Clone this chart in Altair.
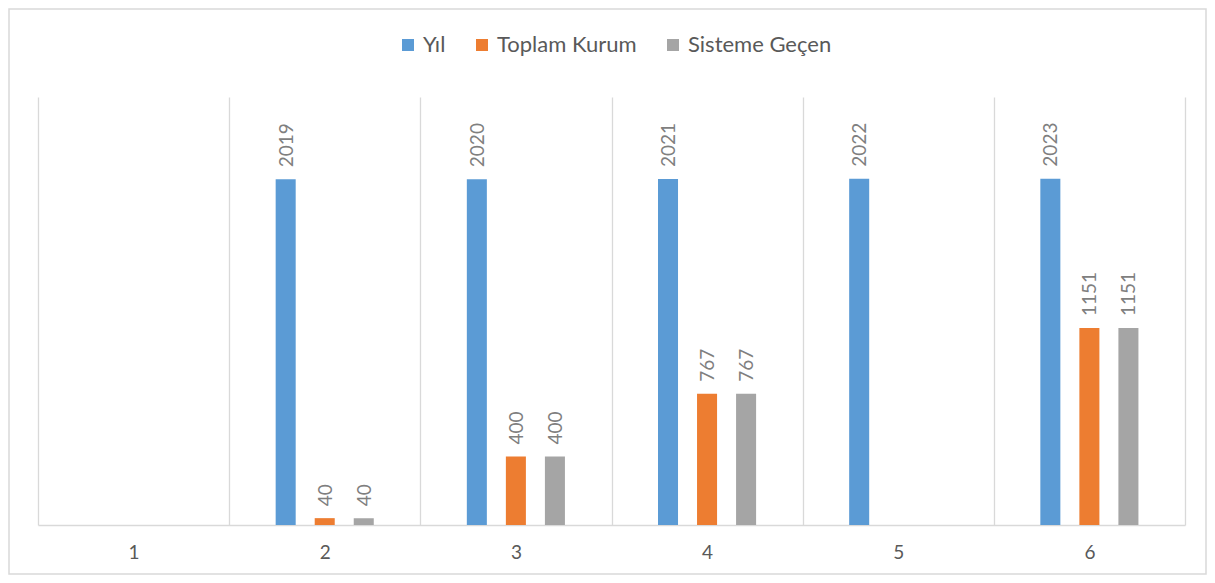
import altair as alt
import pandas as pd

categories = ["1", "2", "3", "4", "5", "6"]
series = ["Yıl", "Toplam Kurum", "Sisteme Geçen"]
colors = ["#5b9bd5", "#ed7d31", "#a5a5a5"]
yil = [None, 2019, 2020, 2021, 2022, 2023]
toplam_kurum = [None, 40, 400, 767, None, 1151]
sisteme_gecen = [None, 40, 400, 767, None, 1151]

rows = []
for i, c in enumerate(categories):
    for s, vals in zip(series, [yil, toplam_kurum, sisteme_gecen]):
        rows.append({"cat": c, "series": s, "value": vals[i]})
df = pd.DataFrame(rows)

FONT = "Lato"
W, H = 1147, 428
PAD = {"left": 30, "top": 89, "right": 22, "bottom": 50}

x_enc = alt.X(
    "cat:N",
    scale=alt.Scale(domain=categories, paddingInner=0, paddingOuter=0),
    axis=alt.Axis(
        title=None,
        labelAngle=0,
        tickBand="extent",
        grid=True,
        gridColor="#d9d9d9",
        gridWidth=1.3,
        ticks=False,
        domainColor="#d9d9d9",
        domainWidth=1.3,
        labelFont=FONT,
        labelFontSize=19,
        labelColor="#595959",
        labelPadding=18,
    ),
)
xoff = alt.XOffset(
    "series:N",
    scale=alt.Scale(domain=series, paddingInner=0.487, paddingOuter=0,
                    range=[46.5, 144.6]),
)
y_enc = alt.Y("value:Q", scale=alt.Scale(domain=[0, 2500]), axis=None)

base = alt.Chart(df)

bars = base.mark_bar().encode(
    x=x_enc,
    xOffset=xoff,
    y=y_enc,
    color=alt.Color(
        "series:N",
        scale=alt.Scale(domain=series, range=colors),
        legend=alt.Legend(
            title=None,
            orient="none",
            direction="horizontal",
            legendX=359,
            legendY=-63,
            padding=0,
            symbolType="square",
            symbolSize=144,
            symbolStrokeWidth=0,
            labelFont=FONT,
            labelFontSize=22,
            labelColor="#595959",
            labelOffset=4,
            columnPadding=25,
        ),
    ),
)

labels = base.mark_text(
    angle=270, align="left", baseline="middle", dx=12, dy=1,
    font=FONT, fontSize=19, color="#7f7f7f",
).encode(
    x=x_enc,
    xOffset=xoff,
    y=y_enc,
    text=alt.Text("value:Q", format="d"),
)

border = alt.Chart(pd.DataFrame({"a": [0]})).mark_rect(
    fillOpacity=0, stroke="#d9d9d9", strokeWidth=1.5
).encode(
    x=alt.value(-29),
    x2=alt.value(W + 21),
    y=alt.value(-88),
    y2=alt.value(H + 49),
)

chart = alt.layer(border, bars, labels).properties(
    width=W,
    height=H,
    padding=PAD,
    autosize=alt.AutoSizeParams(type="none"),
).configure_view(strokeWidth=0)

chart.save("out.html", embed_options={"renderer": "svg", "actions": False})
